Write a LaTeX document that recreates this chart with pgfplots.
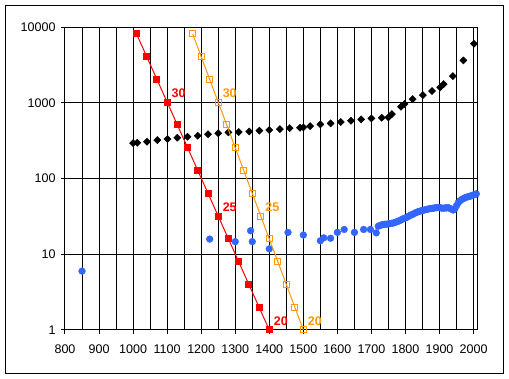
\documentclass[border=0pt]{standalone}
\usepackage{fontspec}
\setmainfont{Liberation Sans}
\usepackage{pgfplots}
\pgfplotsset{compat=1.18}
\definecolor{exred}{RGB}{255,0,0}
\definecolor{exorange}{RGB}{255,153,0}
\definecolor{exblue}{RGB}{51,102,255}
\begin{document}
\begin{tikzpicture}
\path[use as bounding box] (0pt,0pt) rectangle (509pt,379pt);
\fill[white] (0pt,0pt) rectangle (509pt,379pt);
\draw[line width=1pt] (5.5pt,5.5pt) rectangle (503.5pt,373.5pt);
\begin{axis}[
  at={(65pt,49pt)}, anchor=south west,
  scale only axis, width=412pt, height=302.7pt,
  xmin=800, xmax=2010, ymode=log, ymin=1, ymax=10000,
  xtick={800,900,...,2000}, minor xtick={850,950,...,1950},
  ytick={1,10,100,1000,10000}, yticklabels={1,10,100,1000,10000},
  yminorticks=false,
  xmajorgrids=true, xminorgrids=true, ymajorgrids=true,
  major grid style={black, line width=1pt},
  minor grid style={black, line width=1pt},
  axis line style={black, line width=1pt},
  tick align=outside, major tick length=4pt, minor tick length=0pt,
  tick style={black, line width=1pt},
  xtick pos=left, ytick pos=left,
  tick label style={font=\fontsize{12.5}{15}\selectfont},
  xticklabel style={yshift=-7pt},
  yticklabel style={xshift=-2pt},
  /pgf/number format/assume math mode=true,
  /pgf/number format/1000 sep={},
  clip mode=individual,
]
% black diamonds
\addplot[only marks, mark=diamond*, mark size=3.6pt, color=black, mark options={xscale=1.33}] coordinates {
(1000,295) (1012,298) (1041,307) (1071,323) (1101,334) (1130,347) (1160,358)
(1190,369) (1220,385) (1250,397) (1280,409) (1310,413) (1341,420) (1371,431)
(1400,440) (1431,452) (1460,465) (1490,470) (1500,476) (1520,495) (1550,520)
(1580,538) (1610,560) (1640,582) (1670,607) (1700,626) (1730,638) (1750,645)
(1760,713) (1787,891) (1797,967) (1821,1126) (1851,1271) (1878,1437) (1902,1608)
(1912,1778) (1939,2266) (1970,3653) (2001,6050)
};
% blue circles
\addplot[only marks, mark=*, mark size=3.4pt, color=exblue] coordinates {
(850,6) (1225,15.9) (1300,14.7) (1345,20.5) (1350,14.7) (1400,11.8) (1455,19.5)
(1500,18) (1550,15.1) (1560,16.5) (1580,16.3) (1600,19.5) (1620,21.3) (1650,19.5)
(1677,21.3) (1697,21.3) (1714,19.2)
(1720,23.5) (1725,24) (1730,24.5) (1735,24.8) (1740,25) (1745,25) (1750,25.2)
(1755,25.5) (1760,25.7) (1765,26) (1770,26.5) (1775,27) (1780,27.5) (1785,28.2)
(1790,29) (1795,29.7) (1800,30.3) (1805,31) (1810,32) (1815,33) (1820,33.5)
(1825,34.5) (1830,35.5) (1835,36.2) (1840,37) (1845,37.5) (1850,38) (1855,38.5)
(1860,39) (1865,39.5) (1870,40) (1875,40.2) (1880,40.5) (1885,41) (1890,41.3)
(1895,41.5) (1900,41.5) (1905,41) (1910,40.5) (1915,41) (1920,41) (1925,41.5)
(1930,40.5) (1935,39.5) (1940,38.5) (1945,40) (1950,44) (1955,48) (1960,51)
(1965,53) (1970,54.5) (1975,56) (1980,57) (1985,58) (1990,58.5) (1995,60)
(2000,61) (2005,62) (2008,63)
};
% red filled squares
\addplot[color=exred, line width=1pt, mark=square*, mark size=3pt] coordinates {
(1010,8192) (1040,4096) (1070,2048) (1100,1024) (1130,512) (1160,256) (1190,128)
(1220,64) (1250,32) (1280,16) (1310,8) (1340,4) (1370,2) (1400,1)
};
% orange open squares
\addplot[color=exorange, line width=1pt, mark=square, mark size=3pt, mark options={fill=white}] coordinates {
(1175,8192) (1200,4096) (1225,2048) (1250,1024) (1275,512) (1300,256) (1325,128)
(1350,64) (1375,32) (1400,16) (1425,8) (1450,4) (1475,2) (1500,1)
};
% labels
\addplot[draw=none, mark=none, nodes near coords, point meta=explicit symbolic,
  nodes near coords style={anchor=west, xshift=1pt, yshift=9pt, text=exred,
  font=\bfseries\fontsize{12.5}{15}\selectfont}] coordinates {
(1100,1024)[30] (1250,32)[25] (1400,1)[20]
};
\addplot[draw=none, mark=none, nodes near coords, point meta=explicit symbolic,
  nodes near coords style={anchor=west, xshift=1pt, yshift=9pt, text=exorange,
  font=\bfseries\fontsize{12.5}{15}\selectfont}] coordinates {
(1250,1024)[30] (1375,32)[25] (1500,1)[20]
};
\end{axis}
\end{tikzpicture}
\end{document}
